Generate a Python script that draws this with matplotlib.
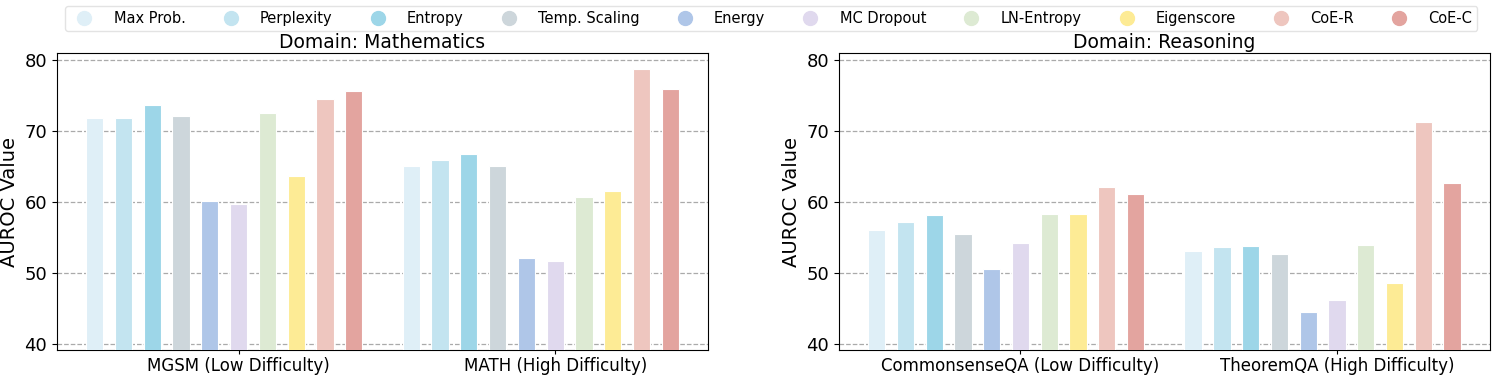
import matplotlib
matplotlib.use("Agg")
import matplotlib.pyplot as plt
from matplotlib.lines import Line2D
import numpy as np

methods = ["Max Prob.", "Perplexity", "Entropy", "Temp. Scaling", "Energy",
           "MC Dropout", "LN-Entropy", "Eigenscore", "CoE-R", "CoE-C"]
colors = ["#DFEFF7", "#C3E4F0", "#9DD6E8", "#CDD6DB", "#AFC6E8",
          "#E0D9EE", "#DDEAD3", "#FDEB95", "#EEC6BF", "#E3A49F"]

math_datasets = ["MGSM (Low Difficulty)", "MATH (High Difficulty)"]
math_mgsm = [71.8, 71.8, 73.7, 72.1, 60.1, 59.7, 72.6, 63.6, 74.5, 75.7]
math_math = [65.0, 65.9, 66.8, 65.1, 52.1, 51.7, 60.7, 61.6, 78.7, 75.9]

reason_datasets = ["CommonsenseQA (Low Difficulty)", "TheoremQA (High Difficulty)"]
reason_csqa = [56.0, 57.2, 58.2, 55.4, 50.5, 54.2, 58.3, 58.3, 62.1, 61.1]
reason_tqa = [53.1, 53.6, 53.8, 52.7, 44.5, 46.2, 53.9, 48.5, 71.3, 62.7]

yticks = [40, 50, 60, 70, 80]

plt.rcParams['font.family'] = ['DejaVu Sans']

fig = plt.figure(figsize=(14.92, 3.76), dpi=100)
ax1 = fig.add_axes([0.038, 0.0691, 0.4367, 0.7891])
ax2 = fig.add_axes([0.5621, 0.0691, 0.4366, 0.7891])

p = 1.0 / 11
bw = 0.6 * p

def draw(ax, datasets, series, title):
    x = np.arange(len(datasets))
    for i, m in enumerate(methods):
        vals = [s[i] for s in series]
        ax.bar(x + (i - 5) * p, vals, width=bw, color=colors[i],
               edgecolor='white', linewidth=0.8, zorder=3)
    ax.set_xticks(x)
    ax.set_xticklabels(datasets, fontsize=12)
    ax.tick_params(axis='x', length=3, pad=2)
    ax.set_xlim(-5 * p - 1.32 * p, 1 + 4 * p + 1.32 * p)
    ax.set_ylim(39.1, 80.95)
    ax.set_yticks(yticks)
    ax.tick_params(axis='y', labelsize=13)
    ax.set_ylabel("AUROC Value", fontsize=14, labelpad=4)
    ax.set_title(title, fontsize=13.5, pad=4)
    ax.yaxis.grid(True, linestyle='--', color='#aaaaaa', linewidth=0.9, zorder=0)
    ax.set_axisbelow(True)

draw(ax1, math_datasets, [math_mgsm, math_math], "Domain: Mathematics")
draw(ax2, reason_datasets, [reason_csqa, reason_tqa], "Domain: Reasoning")

handles = [Line2D([0], [0], marker='o', linestyle='', markersize=10,
                  markerfacecolor=c, markeredgecolor=c) for c in colors]
fig.legend(handles, methods, loc='upper center', bbox_to_anchor=(0.5168, 1.003),
           ncol=10, fontsize=10.5, frameon=True, columnspacing=2.1,
           handletextpad=1.0, borderpad=0.35, edgecolor='#dddddd', fancybox=True)

fig.savefig("out.png", dpi=100)
